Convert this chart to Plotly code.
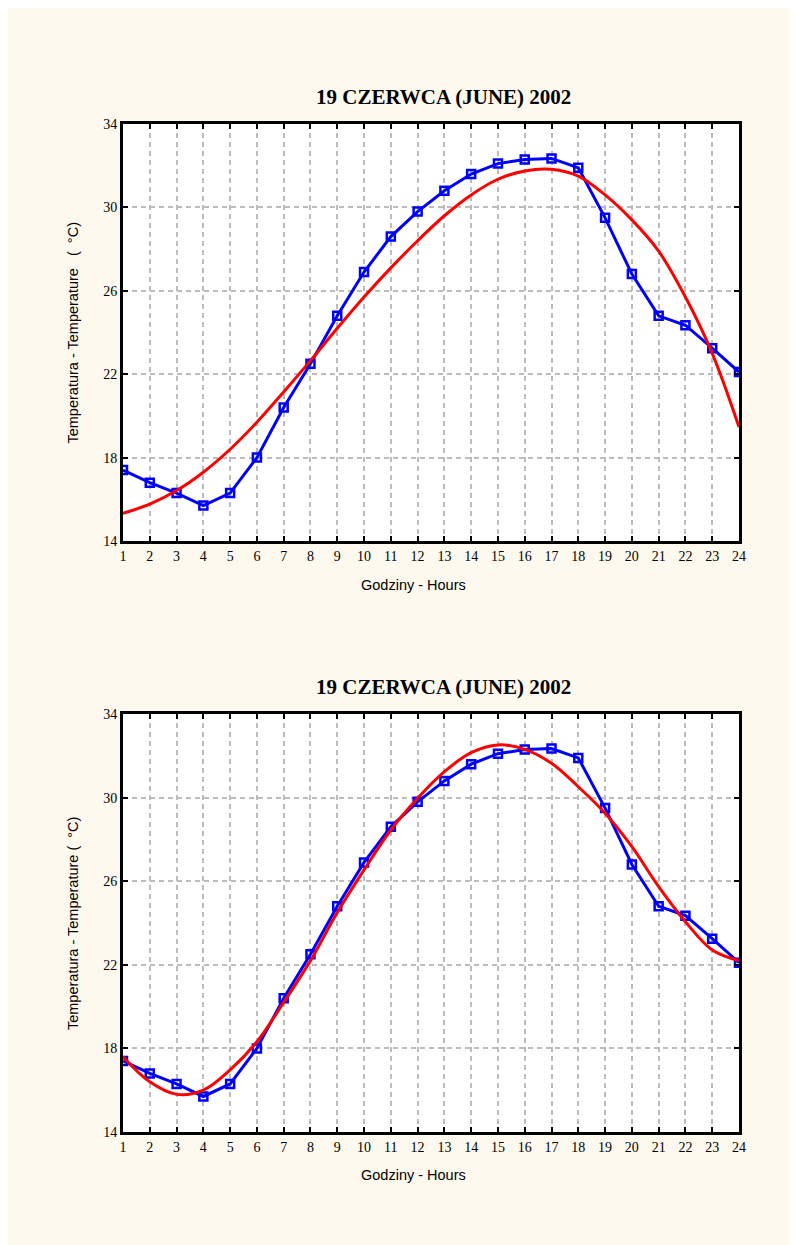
import plotly.graph_objects as go

# ---- data ----
hours = list(range(1, 25))
temp_measured = [17.4, 16.8, 16.3, 15.7, 16.3, 18.0, 20.4, 22.5, 24.8, 26.9, 28.6, 29.8,
                 30.8, 31.6, 32.1, 32.3, 32.35, 31.9, 29.5, 26.8, 24.8, 24.35, 23.25, 22.1]
fit_top = [15.33, 15.77, 16.42, 17.3, 18.4, 19.7, 21.15, 22.65, 24.2, 25.7, 27.1, 28.4,
           29.6, 30.6, 31.35, 31.75, 31.83, 31.5, 30.6, 29.4, 27.9, 25.7, 23.0, 19.47]
fit_bottom = [17.6, 16.4, 15.8, 16.0, 16.97, 18.32, 20.2, 22.2, 24.5, 26.54, 28.45, 29.97,
              31.24, 32.15, 32.52, 32.31, 31.64, 30.52, 29.25, 27.65, 25.74, 24.06, 22.71, 22.2]
y_ticks = [14, 18, 22, 26, 30, 34]
title_text = "19 CZERWCA (JUNE) 2002"
x_title = "Godziny - Hours"
y_title_top = "Temperatura - Temperature   (  °C)"
y_title_bottom = "Temperatura - Temperature (  °C)"

CREAM = "#fef9ef"
BLUE = "#0000ff"
RED = "#ff0000"
SERIF = "Liberation Serif, Times New Roman, serif"
SANS = "Liberation Sans, Arial, sans-serif"

fig = go.Figure()
for ax, fit in (("", fit_top), ("2", fit_bottom)):
    fig.add_trace(go.Scatter(
        x=hours, y=temp_measured, mode="lines+markers", xaxis="x" + ax, yaxis="y" + ax,
        line=dict(color=BLUE, width=3),
        marker=dict(symbol="square-open", size=8, color=BLUE, line=dict(width=2.5, color=BLUE)),
        showlegend=False, hoverinfo="skip"))
    fig.add_trace(go.Scatter(
        x=hours, y=fit, mode="lines", xaxis="x" + ax, yaxis="y" + ax,
        line=dict(color=RED, width=3, shape="spline", smoothing=1.0),
        showlegend=False, hoverinfo="skip"))

axis_common = dict(
    showline=True, linecolor="black", linewidth=3, mirror="ticks",
    ticks="inside", ticklen=5, tickwidth=2, tickcolor="black",
    showgrid=True, gridcolor="#bcbcbc", gridwidth=2, griddash="5px,4px",
    zeroline=False, tickfont=dict(family=SERIF, size=14, color="black"),
)

top_dom = [0.5863, 1.0]
bot_dom = [0.0, 0.41468]

fig.update_layout(
    width=797, height=1245,
    margin=dict(l=115, r=66, t=116, b=121),
    paper_bgcolor=CREAM, plot_bgcolor="white",
    xaxis=dict(range=[1, 24], tickmode="array", tickvals=hours, domain=[0, 1],
               anchor="y", **axis_common),
    yaxis=dict(range=[14, 34], tickmode="array", tickvals=y_ticks, domain=top_dom,
               anchor="x", **axis_common),
    xaxis2=dict(range=[1, 24], tickmode="array", tickvals=hours, domain=[0, 1],
                anchor="y2", **axis_common),
    yaxis2=dict(range=[14, 34], tickmode="array", tickvals=y_ticks, domain=bot_dom,
                anchor="x2", **axis_common),
)

ann = []
for ty, xy, yy, yt in ((1.0268, 0.5427, 0.7931, y_title_top),
                       (0.4415, -0.0427, 0.2073, y_title_bottom)):
    ann.append(dict(text="<b>" + title_text + "</b>", x=0.521, y=ty, xref="paper", yref="paper",
                    xanchor="center", yanchor="middle", showarrow=False,
                    font=dict(family=SERIF, size=21, color="black")))
    ann.append(dict(text=x_title, x=0.4724, y=xy, xref="paper", yref="paper",
                    xanchor="center", yanchor="middle", showarrow=False,
                    font=dict(family=SANS, size=14.5, color="black")))
    ann.append(dict(text=yt, x=-0.0812, y=yy, xref="paper", yref="paper", textangle=-90,
                    xanchor="center", yanchor="middle", showarrow=False,
                    font=dict(family=SANS, size=14.5, color="black")))
fig.update_layout(annotations=ann)

fig.write_html("out.html")
